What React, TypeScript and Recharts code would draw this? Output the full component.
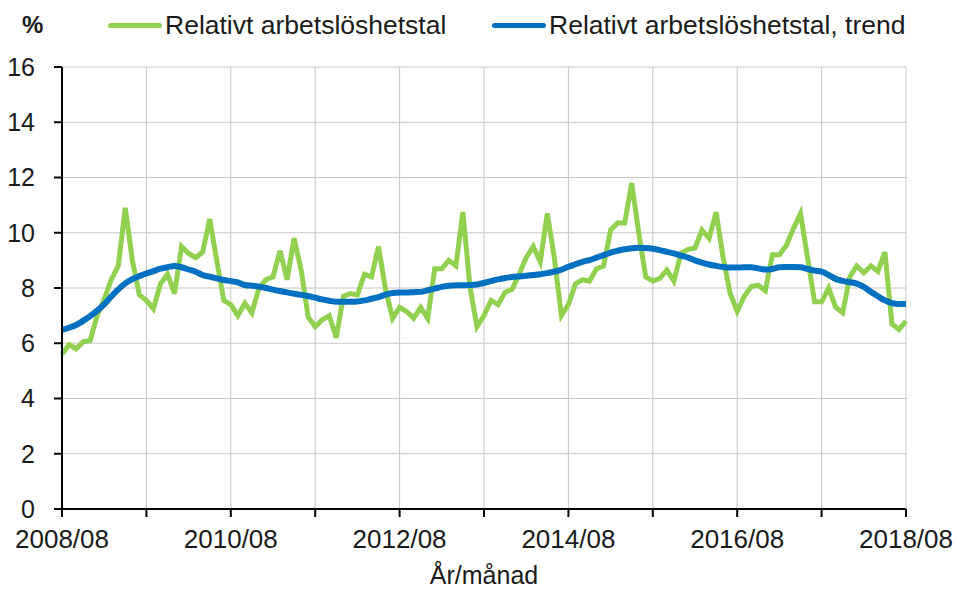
import { LineChart, Line, XAxis, YAxis, CartesianGrid } from "recharts";

const startYear = 2008;
const startMonth = 8;

const unemployment = [
    5.6, 5.95, 5.8, 6.05, 6.1, 7.0, 7.6, 8.3, 8.8, 10.9, 9.0, 7.75,
    7.55, 7.25, 8.15, 8.5, 7.8, 9.5, 9.25, 9.1, 9.3, 10.5, 9.0, 7.55,
    7.4, 7.0, 7.45, 7.1, 8.0, 8.3, 8.4, 9.35, 8.3, 9.8, 8.65, 6.95,
    6.6, 6.85, 7.0, 6.2, 7.7, 7.8, 7.75, 8.5, 8.4, 9.5, 7.95, 6.9,
    7.3, 7.15, 6.9, 7.3, 6.9, 8.7, 8.7, 9.0, 8.8, 10.75, 8.05, 6.6,
    7.0, 7.55, 7.4, 7.85, 7.95, 8.5, 9.1, 9.5, 8.95, 10.7, 9.1, 7.0,
    7.4, 8.15, 8.3, 8.25, 8.7, 8.8, 10.1, 10.35, 10.35, 11.8, 10.0, 8.4,
    8.25, 8.35, 8.65, 8.25, 9.25, 9.4, 9.45, 10.1, 9.8, 10.75, 9.1, 7.8,
    7.15, 7.7, 8.05, 8.1, 7.9, 9.2, 9.2, 9.55, 10.15, 10.7, 9.1, 7.5,
    7.5, 8.0, 7.3, 7.1, 8.4, 8.8, 8.55, 8.8, 8.6, 9.3, 6.7, 6.5,
    6.8,
];

const trend = [
    6.48, 6.56, 6.66, 6.81, 6.98, 7.18, 7.41, 7.69, 7.95, 8.17, 8.32, 8.43,
    8.53, 8.61, 8.7, 8.75, 8.8, 8.75, 8.67, 8.59, 8.47, 8.41, 8.35, 8.29,
    8.25, 8.2, 8.11, 8.08, 8.05, 8.0, 7.94, 7.89, 7.84, 7.79, 7.75, 7.71,
    7.65, 7.59, 7.54, 7.5, 7.5, 7.5, 7.51, 7.55, 7.61, 7.67, 7.76, 7.82,
    7.84, 7.84, 7.85, 7.86, 7.92, 7.98, 8.04, 8.08, 8.1, 8.1, 8.11, 8.13,
    8.18, 8.25, 8.31, 8.36, 8.4, 8.42, 8.44, 8.47, 8.5, 8.54, 8.59, 8.66,
    8.77, 8.86, 8.95, 9.01, 9.1, 9.19, 9.28, 9.35, 9.4, 9.44, 9.46, 9.45,
    9.42, 9.37, 9.31, 9.25, 9.17, 9.1, 9.0, 8.92, 8.85, 8.8, 8.76, 8.74,
    8.74, 8.75, 8.75, 8.71, 8.67, 8.69, 8.75, 8.76, 8.76, 8.75, 8.69, 8.63,
    8.59, 8.47, 8.33, 8.26, 8.21, 8.16, 8.04, 7.86, 7.7, 7.55, 7.45, 7.42,
    7.42,
];

const xTicks = [0, 12, 24, 36, 48, 60, 72, 84, 96, 108, 120];
const yTicks = [0, 2, 4, 6, 8, 10, 12, 14, 16];

const monthLabel = (i: number) => {
    const total = startMonth - 1 + i;
    const y = startYear + Math.floor(total / 12);
    const m = (total % 12) + 1;
    return `${y}/${m < 10 ? "0" + m : m}`;
};

const data = unemployment.map((v, i) => ({
    i,
    month: monthLabel(i),
    value: v,
    trend: trend[i],
}));

const FONT = "'Liberation Sans', Arial, sans-serif";
const GREEN = "#92d050";
const BLUE = "#0070c0";

function TopLegend() {
    const item = (color: string, text: string, lineLeft: number, lineW: number) => (
        <div style={{ position: "absolute", left: lineLeft, top: 8, display: "flex", alignItems: "center", height: 34 }}>
            <div style={{ width: lineW, height: 5, borderRadius: 3, background: color }} />
            <span style={{ marginLeft: 3, fontSize: 26.5, color: "#1a1a1a", whiteSpace: "nowrap" }}>{text}</span>
        </div>
    );
    return (
        <div style={{ position: "absolute", left: 0, top: 0, width: 958, height: 50, fontFamily: FONT }}>
            <div style={{ position: "absolute", left: 22, top: 8, height: 34, display: "flex", alignItems: "center", fontSize: 24, fontWeight: "bold", color: "#1a1a1a" }}>%</div>
            {item(GREEN, "Relativt arbetslöshetstal", 108, 54)}
            {item(BLUE, "Relativt arbetslöshetstal, trend", 492, 54)}
        </div>
    );
}

export default function App() {
    return (
        <div style={{ position: "absolute", left: 0, top: 0, width: 958, height: 589, overflow: "hidden", fontFamily: FONT, background: "#fff" }}>
            <LineChart
                width={958}
                height={589}
                data={data}
                margin={{ top: 67, right: 52, bottom: 50, left: 0 }}
            >
                <CartesianGrid stroke="#c6c6c6" strokeWidth={1} horizontalValues={yTicks} verticalValues={xTicks} />
                <XAxis
                    dataKey="i"
                    type="number"
                    domain={[0, 120]}
                    ticks={xTicks}
                    interval={0}
                    tickFormatter={(v: number) => (v % 24 === 0 ? monthLabel(v) : "")}
                    stroke="#000"
                    strokeWidth={2}
                    tickSize={8}
                    tickMargin={13}
                    height={30}
                    tick={{ fill: "#1a1a1a", fontSize: 26, fontFamily: FONT }}
                    label={{ value: "År/månad", position: "bottom", offset: 27, fill: "#1a1a1a", fontSize: 25, fontFamily: FONT }}
                />
                <YAxis
                    domain={[0, 16]}
                    ticks={yTicks}
                    interval={0}
                    stroke="#000"
                    strokeWidth={2}
                    tickSize={8}
                    tickMargin={19}
                    width={62}
                    tick={{ fill: "#1a1a1a", fontSize: 25, fontFamily: FONT }}
                />
                <Line
                    type="linear"
                    dataKey="value"
                    name="Relativt arbetslöshetstal"
                    stroke={GREEN}
                    strokeWidth={5}
                    dot={false}
                    isAnimationActive={false}
                />
                <Line
                    type="monotone"
                    dataKey="trend"
                    name="Relativt arbetslöshetstal, trend"
                    stroke={BLUE}
                    strokeWidth={6}
                    dot={false}
                    isAnimationActive={false}
                />
            </LineChart>
            <TopLegend />
        </div>
    );
}
